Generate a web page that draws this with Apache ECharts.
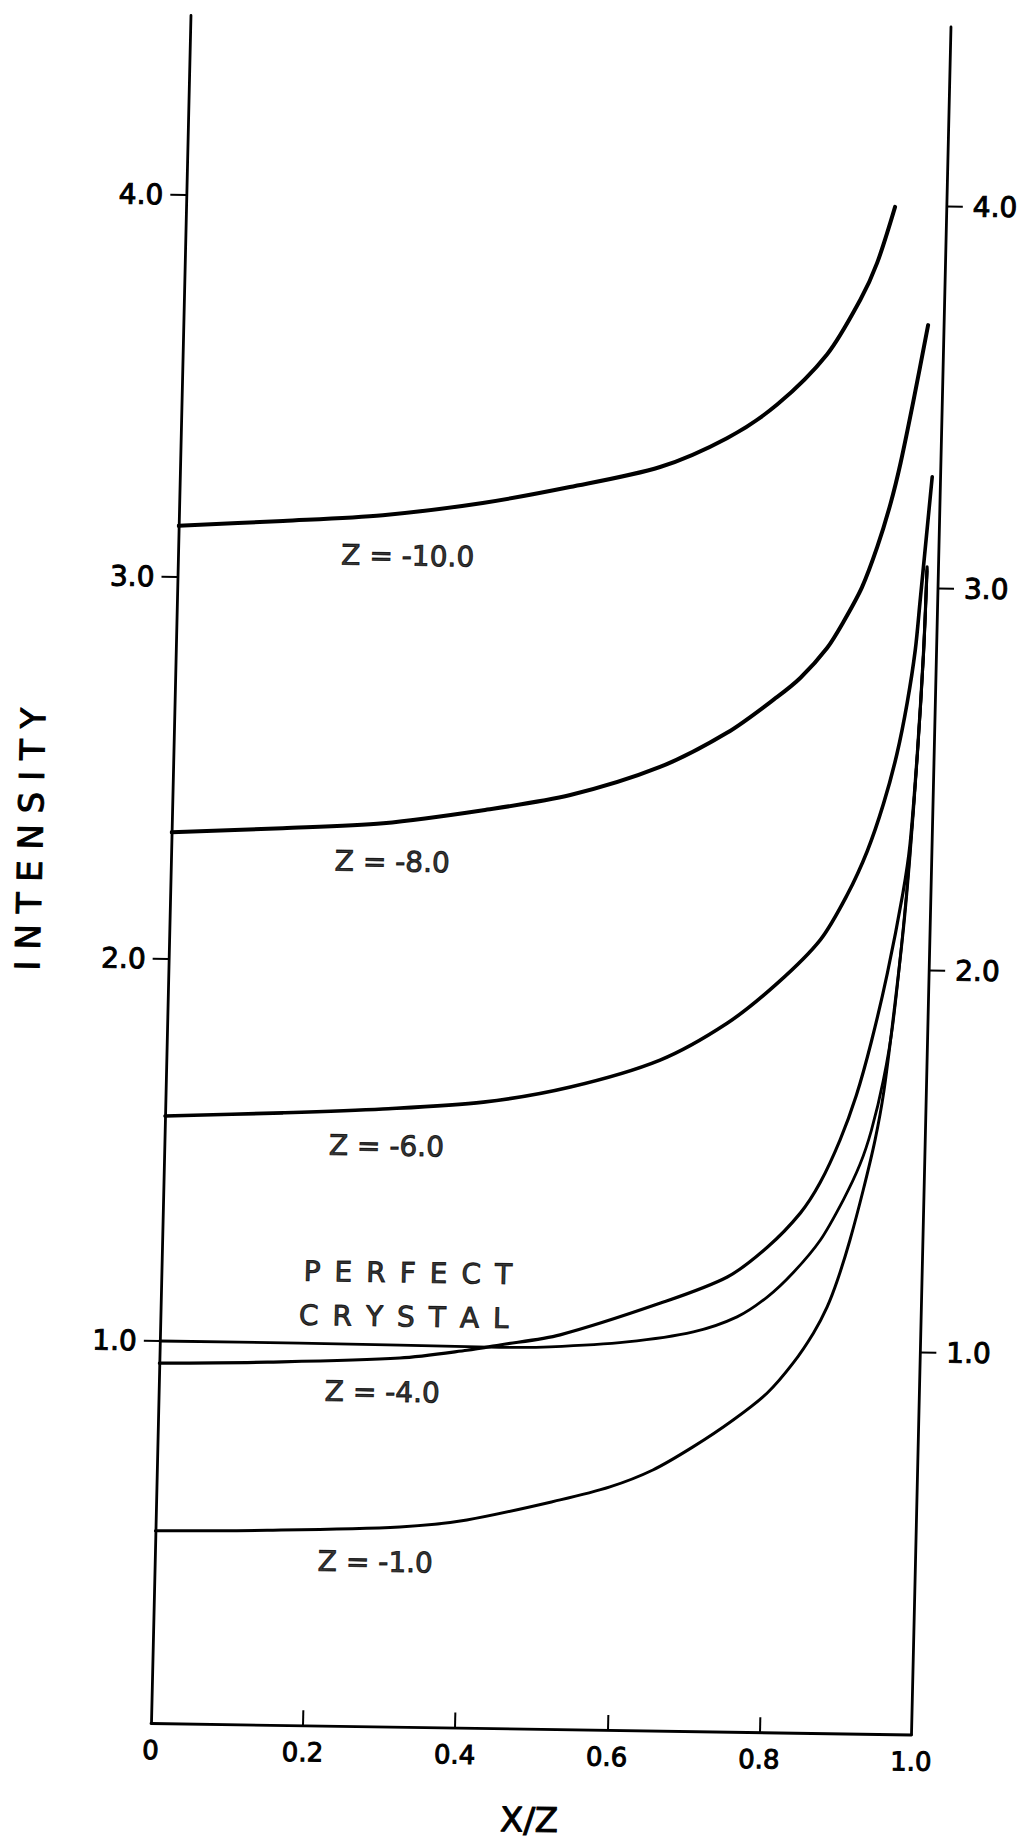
<!DOCTYPE html>
<html><head><meta charset="utf-8">
<script src="https://cdn.jsdelivr.net/npm/echarts@6/dist/echarts.min.js"></script>
<style>
html,body{margin:0;padding:0;background:#fff;overflow:hidden;width:1023px;height:1840px;}
#chart{position:absolute;left:-60px;top:0;width:1083px;height:1840px;transform-origin:211px 1723px;transform:matrix(1,0.01512,-0.02312,1,0,0);}
</style></head><body><div id="chart"></div>
<script>
// ---- data (X/Z vs INTENSITY) ----
const xTickValues = [0, 0.2, 0.4, 0.6, 0.8, 1.0];
const yTickValues = [1, 2, 3, 4];

const z10X = [0, 0.137, 0.268, 0.399, 0.513, 0.631, 0.718, 0.783, 0.847, 0.889, 0.910, 0.932];
const z10Y = [3.134, 3.151, 3.170, 3.206, 3.251, 3.307, 3.385, 3.475, 3.608, 3.752, 3.849, 3.997];

const z8X = [0, 0.146, 0.278, 0.409, 0.523, 0.640, 0.727, 0.792, 0.822, 0.856, 0.877, 0.900, 0.919, 0.935, 0.947, 0.962, 0.979];
const z8Y = [2.332, 2.347, 2.364, 2.402, 2.445, 2.522, 2.614, 2.710, 2.761, 2.840, 2.910, 3.000, 3.107, 3.220, 3.327, 3.490, 3.689];

const z6X = [0, 0.155, 0.286, 0.418, 0.532, 0.649, 0.736, 0.801, 0.856, 0.890, 0.915, 0.935, 0.951, 0.963, 0.972, 0.977, 0.989];
const z6Y = [1.589, 1.602, 1.616, 1.638, 1.681, 1.755, 1.854, 1.961, 2.076, 2.195, 2.310, 2.435, 2.565, 2.700, 2.838, 2.970, 3.292];

const z4X = [0, 0.142, 0.316, 0.404, 0.447, 0.526, 0.657, 0.744, 0.796, 0.838, 0.863, 0.888, 0.908, 0.926, 0.945, 0.963, 0.971, 0.978, 0.983, 0.985];
const z4Y = [0.942, 0.949, 0.965, 0.988, 1.003, 1.032, 1.119, 1.190, 1.270, 1.360, 1.440, 1.553, 1.670, 1.810, 1.990, 2.200, 2.330, 2.576, 2.839, 3.056];

const perfX = [0, 0.184, 0.447, 0.513, 0.614, 0.701, 0.758, 0.797, 0.830, 0.865, 0.894, 0.915, 0.929, 0.943, 0.954, 0.965, 0.971, 0.978, 0.983, 0.985];
const perfY = [1.0, 1.0, 0.997, 1.0, 1.016, 1.045, 1.086, 1.139, 1.203, 1.290, 1.396, 1.490, 1.580, 1.710, 1.860, 2.120, 2.300, 2.570, 2.835, 3.050];

const z1X = [0, 0.147, 0.321, 0.409, 0.531, 0.596, 0.652, 0.704, 0.756, 0.800, 0.833, 0.859, 0.876, 0.889, 0.904, 0.920, 0.934, 0.944, 0.954, 0.965, 0.971, 0.978, 0.983, 0.985];
const z1Y = [0.503, 0.509, 0.523, 0.544, 0.600, 0.636, 0.682, 0.744, 0.816, 0.888, 0.967, 1.047, 1.115, 1.187, 1.291, 1.423, 1.554, 1.680, 1.870, 2.110, 2.290, 2.565, 2.830, 3.045];

const noteText = ["Z = -10.0", "Z = -8.0", "Z = -6.0",
  "P\u2002E\u2002R\u2002F\u2002E\u2002C\u2002T", "C\u2002R\u2002Y\u2002S\u2002T\u2002A\u2002L",
  "Z = -4.0", "Z = -1.0"];
const noteX = [0.302, 0.291, 0.292, 0.324, 0.320, 0.294, 0.290];
const noteY = [3.064, 2.263, 1.519, 1.188, 1.073, 0.875, 0.43];

// ---- chart ----
const FONT = 'DejaVu Sans';
const zip = (xs, ys) => xs.map((x, i) => [x, ys[i]]);
const curves = [
  {name: 'Z = -10.0', x: z10X, y: z10Y, w: 4.0},
  {name: 'Z = -8.0', x: z8X, y: z8Y, w: 4.0},
  {name: 'Z = -6.0', x: z6X, y: z6Y, w: 3.6},
  {name: 'Z = -4.0', x: z4X, y: z4Y, w: 3.2},
  {name: 'PERFECT CRYSTAL', x: perfX, y: perfY, w: 2.8},
  {name: 'Z = -1.0', x: z1X, y: z1Y, w: 3.0}
];
const heavy = {textBorderColor: '#000', textBorderWidth: 1.0};

function yAxisOf(pos, margin) {
  return {
    type: 'value', min: 0, max: 4.47, interval: 1, position: pos,
    splitLine: {show: false},
    axisLine: {show: true, lineStyle: {color: '#000', width: 2.8}},
    axisTick: {show: true, length: 16, customValues: yTickValues, lineStyle: {color: '#000', width: 2}},
    axisLabel: Object.assign({show: true, customValues: yTickValues, margin: margin, color: '#000', fontFamily: FONT, fontSize: 28,
      formatter: v => v.toFixed(1)}, heavy)
  };
}

const chart = echarts.init(document.getElementById('chart'), null, {renderer: 'svg'});
chart.setOption({
  animation: false,
  backgroundColor: 'transparent',
  grid: {left: 211, right: 111.5, top: 15.5, bottom: 117, containLabel: false, outerBoundsMode: 'none'},
  xAxis: {
    type: 'value', min: 0, max: 1, interval: 0.2,
    name: 'X/Z', nameLocation: 'middle', nameGap: 74,
    nameTextStyle: Object.assign({color: '#000', fontFamily: FONT, fontSize: 34}, heavy),
    splitLine: {show: false},
    axisLine: {show: true, onZero: false, lineStyle: {color: '#000', width: 2.8}},
    axisTick: {show: true, inside: true, length: 15, customValues: [0.2, 0.4, 0.6, 0.8], lineStyle: {color: '#000', width: 2}},
    axisLabel: Object.assign({show: true, customValues: xTickValues, margin: 14, color: '#000', fontFamily: FONT, fontSize: 26,
      formatter: v => v === 0 ? '0' : v.toFixed(1)}, heavy)
  },
  yAxis: [
    Object.assign(yAxisOf('left', 23), {
      name: 'I N T E N S I T Y', nameLocation: 'middle', nameRotate: 90, nameGap: 124,
      nameTextStyle: Object.assign({color: '#000', fontFamily: FONT, fontSize: 34, padding: [0, 0, 0, 56]}, heavy)}),
    yAxisOf('right', 26)
  ],
  series: curves.map(c => ({
    name: c.name, type: 'line', data: zip(c.x, c.y), showSymbol: false, symbol: 'none',
    smooth: 0.3, silent: true,
    lineStyle: {color: '#000', width: c.w, cap: 'round', join: 'round'}
  })).concat([{
    name: 'notes', type: 'scatter', symbolSize: 0, silent: true,
    data: noteX.map((x, i) => [x, noteY[i], noteText[i]]),
    label: Object.assign({show: true, position: 'inside', color: '#000', fontFamily: FONT, fontSize: 28,
      formatter: p => p.data[2]}, heavy)
  }])
});
</script></body></html>
